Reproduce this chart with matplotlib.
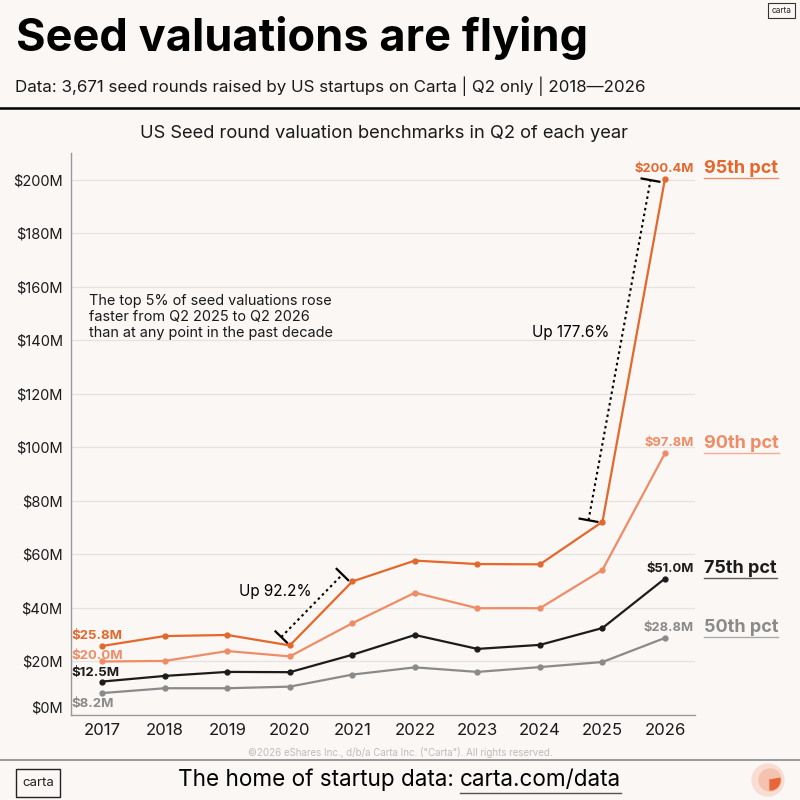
import numpy as np
import matplotlib.pyplot as plt
from matplotlib.lines import Line2D
from matplotlib.patches import Circle, Wedge, Rectangle

plt.rcParams['font.family'] = ['Inter', 'DejaVu Sans']

years = [2017, 2018, 2019, 2020, 2021, 2022, 2023, 2024, 2025, 2026]
p95 = [25.8, 29.5, 29.9, 26.0, 49.9, 57.7, 56.4, 56.3, 72.2, 200.4]
p90 = [20.0, 20.2, 23.9, 21.9, 34.3, 45.7, 39.9, 39.9, 54.2, 97.8]
p75 = [12.5, 14.6, 16.1, 16.0, 22.5, 29.9, 24.7, 26.2, 32.5, 51.0]
p50 = [8.2, 10.0, 10.0, 10.6, 15.1, 17.8, 16.1, 17.9, 19.8, 28.8]

series = [
    ('95th pct', p95, '#E4672C'),
    ('90th pct', p90, '#EF8C66'),
    ('75th pct', p75, '#1C1C1C'),
    ('50th pct', p50, '#8A8A8A'),
]
# offsets (pixels) of the first-point labels
left_off = [10, 5, 9, -11]

bg = '#FAF7F5'
W = H = 800.0


def fx(x):
    return x / W


def fy(y):
    return 1 - y / H


fig = plt.figure(figsize=(8, 8), dpi=100, facecolor=bg)
ax = fig.add_axes([fx(71), fy(715), (695 - 71) / W, (715 - 153) / H])
ax.set_facecolor(bg)

ax.set_xlim(2016.5, 2026.48)
ax.set_ylim(0, 210)
ax.set_yticks(np.arange(0, 201, 20))
ax.set_yticklabels(['$%dM' % v for v in range(0, 201, 20)])
ax.set_xticks(years)
ax.set_xticklabels([str(y) for y in years])
ax.tick_params(axis='both', length=0, colors='#1a1a1a')
ax.tick_params(axis='y', pad=6, labelsize=10.5)
ax.tick_params(axis='x', pad=6, labelsize=12)
ax.get_yticklabels()[0].set_va('bottom')
ax.grid(axis='y', color='#E6E2DF', linewidth=0.9)
ax.set_axisbelow(True)
for s in ['top', 'right']:
    ax.spines[s].set_visible(False)
for s in ['left', 'bottom']:
    ax.spines[s].set_color('#9a9a9a')
    ax.spines[s].set_linewidth(1.0)

px = 0.72  # points per pixel
for (name, vals, col), lo in zip(series, left_off):
    ax.plot(years, vals, color=col, linewidth=1.6, marker='o', markersize=3.5, zorder=3)
    ax.annotate('$%.1fM' % vals[0], xy=(2016.5, vals[0]), xytext=(0, lo * px),
                textcoords='offset points', ha='left', va='center', fontsize=9.5,
                fontweight='bold', color=col, zorder=4)
    ax.annotate('$%.1fM' % vals[-1], xy=(years[-1], vals[-1]), xytext=(29 * px, 10 * px),
                textcoords='offset points', ha='right', va='center', fontsize=9.3,
                fontweight='bold', color=col, annotation_clip=False)
    ax.annotate(name, xy=(years[-1], vals[-1]), xytext=(39 * px, 10 * px),
                textcoords='offset points', ha='left', va='center', fontsize=13,
                fontweight='bold', color=col, annotation_clip=False)

fig.canvas.draw()
rend = fig.canvas.get_renderer()
# underline the right-hand labels
for txt in ax.texts:
    if txt.get_text().endswith('pct'):
        bb = txt.get_window_extent(rend)
        fig.add_artist(Line2D([bb.x0 / W, bb.x1 / W], [(bb.y0 - 1) / H, (bb.y0 - 1) / H],
                              color=txt.get_color(), linewidth=1.0, alpha=0.7))


def bracket(i0, i1, vals, off, cap, shrink0, shrink1):
    p0 = ax.transData.transform((years[i0], vals[i0]))
    p1 = ax.transData.transform((years[i1], vals[i1]))
    d = (p1 - p0) / np.hypot(*(p1 - p0))
    n = np.array([-d[1], d[0]])
    a = p0 + n * off + d * shrink0
    b = p1 + n * off - d * shrink1
    inv = ax.transData.inverted()
    seg = inv.transform([a, b])
    ax.plot(seg[:, 0], seg[:, 1], color='black', linewidth=1.5, linestyle=(0, (1.2, 1.6)),
            zorder=2, clip_on=False)
    for c in (a, b):
        cs = inv.transform([c - n * cap / 2, c + n * cap / 2])
        ax.plot(cs[:, 0], cs[:, 1], color='black', linewidth=1.6, zorder=2, clip_on=False)


bracket(8, 9, p95, 14, 18, -1, 4)
bracket(3, 4, p95, 12, 16, 0, 2)

ax.text(2024.49, 142.8, 'Up 177.6%', ha='center', va='center', fontsize=11, color='black')
ax.text(2019.76, 46.0, 'Up 92.2%', ha='center', va='center', fontsize=11, color='black')
ax.text(2016.79, 157.5, 'The top 5% of seed valuations rose\nfaster from Q2 2025 to Q2 2026\nthan at any point in the past decade',
        ha='left', va='top', fontsize=10.4, color='#1a1a1a', linespacing=1.2)

# header
fig.text(fx(16), fy(38), 'Seed valuations are flying', ha='left', va='center',
         fontsize=32.5, fontweight='bold', color='black')
fig.text(fx(15), fy(86), 'Data: 3,671 seed rounds raised by US startups on Carta | Q2 only | 2018\u20142026',
         ha='left', va='center', fontsize=12.2, color='#1a1a1a')
fig.add_artist(Line2D([0, 1], [fy(108), fy(108)], color='black', linewidth=1.8))
fig.text(fx(384), fy(133), 'US Seed round valuation benchmarks in Q2 of each year',
         ha='center', va='center', fontsize=13.2, color='#1a1a1a')

# small logo top right
fig.add_artist(Rectangle((fx(768), fy(18)), 27 / W, 15 / H, fill=False,
                         edgecolor='#333333', linewidth=0.8))
fig.text(fx(781.5), fy(10.5), 'carta', ha='center', va='center', fontsize=6, color='#222222')

# footer
fig.text(fx(400), fy(752), '\u00a92026 eShares Inc., d/b/a Carta Inc. ("Carta"). All rights reserved.',
         ha='center', va='center', fontsize=7, color='#BDBDBD')
fig.add_artist(Line2D([0, 1], [fy(760), fy(760)], color='#8a8a8a', linewidth=1.2))
fig.add_artist(Rectangle((fx(16), fy(797)), 44 / W, 28 / H, fill=False,
                         edgecolor='#222222', linewidth=1.0))
fig.text(fx(38), fy(783), 'carta', ha='center', va='center', fontsize=9.5, color='#222222')
f1 = fig.text(fx(178), fy(780), 'The home of startup data: ', ha='left', va='center',
              fontsize=16.2, color='black')
fig.canvas.draw()
bb = f1.get_window_extent(rend)
f2 = fig.text(bb.x1 / W, fy(780), 'carta.com/data', ha='left', va='center',
              fontsize=16.2, color='black')
fig.canvas.draw()
bb2 = f2.get_window_extent(rend)
fig.add_artist(Line2D([bb2.x0 / W, bb2.x1 / W], [fy(793), fy(793)], color='#555555', linewidth=1.0))

# round logo bottom right
fig.add_artist(Circle((fx(768), fy(780)), 16 / W, color='#F8DDD2', transform=fig.transFigure))
fig.add_artist(Circle((fx(770), fy(780)), 11 / W, color='#F4C2AE', transform=fig.transFigure))
fig.add_artist(Wedge((fx(770), fy(780)), 10 / W, -90, 10, color='#E8673A', transform=fig.transFigure))

fig.savefig('out.png', dpi=100, facecolor=bg)
